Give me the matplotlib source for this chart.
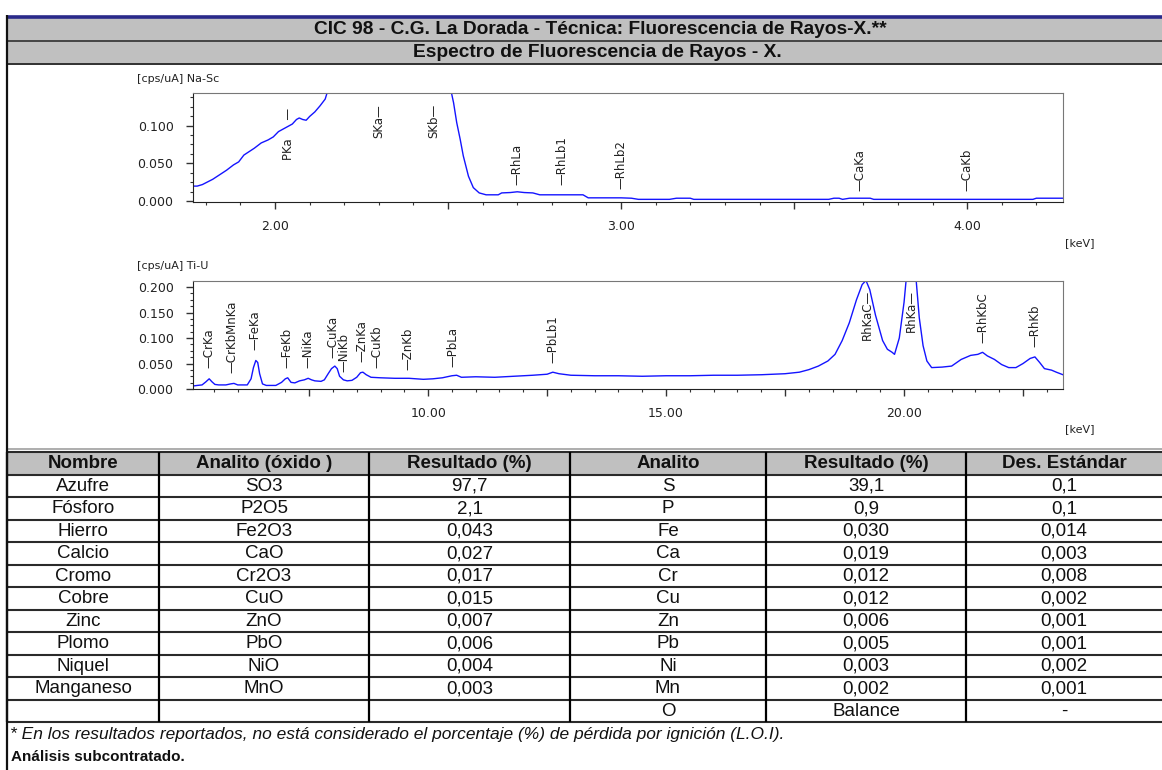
import matplotlib.pyplot as plt
from matplotlib.patches import Rectangle
from matplotlib.ticker import MultipleLocator, FuncFormatter

W, H = 1162, 770

# Espectro Na-Sc (keV, cps/uA)
na_sc_kev = [1.764, 1.775, 1.79, 1.82, 1.84, 1.86, 1.88, 1.895, 1.91, 1.94, 1.96,
             1.98, 1.995, 2.01, 2.03, 2.05, 2.062, 2.07, 2.08, 2.09, 2.10, 2.115,
             2.13, 2.145, 2.155, 2.18, 2.31, 2.46, 2.50, 2.509, 2.516, 2.525, 2.535,
             2.544, 2.559, 2.573, 2.59, 2.61, 2.645, 2.655, 2.68, 2.70, 2.72, 2.745,
             2.765, 2.89, 2.905, 3.00, 3.03, 3.05, 3.14, 3.16, 3.20, 3.21, 3.60,
             3.615, 3.63, 3.64, 3.66, 3.72, 3.73, 4.19, 4.20, 4.277]
na_sc_cps = [0.020, 0.020, 0.022, 0.029, 0.035, 0.041, 0.048, 0.052, 0.061, 0.070, 0.077,
             0.081, 0.085, 0.092, 0.097, 0.102, 0.108, 0.110, 0.108, 0.107, 0.112, 0.118,
             0.126, 0.135, 0.150, 0.250, 0.400, 0.400, 0.250, 0.145, 0.130, 0.104, 0.082,
             0.060, 0.033, 0.018, 0.011, 0.0085, 0.0085, 0.011, 0.0115, 0.0125, 0.0115, 0.011,
             0.0085, 0.0085, 0.0045, 0.0045, 0.004, 0.0025, 0.0025, 0.004, 0.004, 0.0025, 0.0025,
             0.004, 0.004, 0.0025, 0.004, 0.004, 0.0025, 0.0025, 0.004, 0.004]
na_sc_lineas = ["PKa     \u2014", "SKa\u2014", "SKb\u2014", "\u2014RhLa", "\u2014RhLb1",
                "\u2014RhLb2", "\u2014CaKa", "\u2014CaKb"]
na_sc_kev_lineas = [2.04, 2.30, 2.46, 2.70, 2.83, 3.00, 3.69, 4.00]
na_sc_alto_etiqueta = [0.055, 0.084, 0.084, 0.022, 0.021, 0.016, 0.013, 0.013]

# Espectro Ti-U (keV, cps/uA)
ti_u_kev = [5.07, 5.15, 5.25, 5.33, 5.40, 5.46, 5.52, 5.60, 5.75, 5.85, 5.92, 6.00,
            6.20, 6.28, 6.33, 6.38, 6.42, 6.46, 6.52, 6.60, 6.80, 6.92, 7.00, 7.05,
            7.12, 7.20, 7.30, 7.40, 7.48, 7.55, 7.62, 7.75, 7.82, 7.90, 7.97, 8.04,
            8.09, 8.14, 8.22, 8.30, 8.40, 8.50, 8.58, 8.63, 8.70, 8.80, 9.00, 9.30,
            9.60, 9.90, 10.10, 10.30, 10.50, 10.60, 10.70, 11.00, 11.40, 11.80, 12.20,
            12.50, 12.62, 12.75, 13.00, 13.50, 14.00, 14.50, 15.00, 15.50, 16.00, 16.50,
            17.00, 17.50, 17.80, 18.00, 18.20, 18.40, 18.55, 18.70, 18.85, 19.00, 19.12,
            19.20, 19.28, 19.40, 19.55, 19.65, 19.75, 19.80, 19.90, 20.00, 20.06, 20.15,
            20.24, 20.32, 20.40, 20.48, 20.58, 20.80, 21.00, 21.20, 21.40, 21.55, 21.65,
            21.75, 21.90, 22.05, 22.20, 22.35, 22.50, 22.65, 22.75, 22.85, 22.95, 23.10,
            23.20, 23.34]
ti_u_cps = [0.006, 0.007, 0.008, 0.014, 0.020, 0.014, 0.009, 0.008, 0.008, 0.010, 0.011, 0.008,
            0.008, 0.020, 0.042, 0.056, 0.052, 0.030, 0.010, 0.007, 0.007, 0.013, 0.020, 0.022,
            0.013, 0.012, 0.016, 0.018, 0.021, 0.018, 0.016, 0.015, 0.018, 0.030, 0.040, 0.045,
            0.040, 0.025, 0.018, 0.016, 0.017, 0.023, 0.032, 0.033, 0.028, 0.023, 0.022, 0.021,
            0.021, 0.019, 0.020, 0.022, 0.026, 0.027, 0.023, 0.024, 0.023, 0.025, 0.027,
            0.029, 0.033, 0.030, 0.027, 0.026, 0.026, 0.025, 0.026, 0.026, 0.027, 0.027,
            0.028, 0.030, 0.033, 0.038, 0.045, 0.055, 0.068, 0.095, 0.130, 0.175, 0.205,
            0.213, 0.195, 0.145, 0.095, 0.078, 0.072, 0.068, 0.100, 0.170, 0.230, 0.300,
            0.230, 0.140, 0.085, 0.055, 0.042, 0.043, 0.045, 0.058, 0.066, 0.068, 0.072,
            0.065, 0.058, 0.048, 0.042, 0.042, 0.050, 0.060, 0.063, 0.052, 0.040, 0.037,
            0.033, 0.028]
ti_u_lineas = ["\u2014CrKa", "\u2014CrKbMnKa", "\u2014FeKa", "\u2014FeKb", "\u2014NiKa",
               "\u2014CuKa", "\u2014NiKb", "\u2014ZnKa", "\u2014CuKb", "\u2014ZnKb",
               "\u2014PbLa", "\u2014PbLb1", "RhKaC\u2014", "RhKa\u2014", "\u2014RhKbC",
               "\u2014RhKb"]
ti_u_kev_lineas = [5.40, 5.88, 6.37, 7.04, 7.48, 8.00, 8.23, 8.60, 8.93, 9.57,
                   10.53, 12.63, 19.22, 20.15, 21.65, 22.75]
ti_u_alto_etiqueta = [0.041, 0.031, 0.076, 0.041, 0.041, 0.061, 0.033, 0.053, 0.041,
                      0.037, 0.043, 0.051, 0.096, 0.112, 0.090, 0.082]

# Resultados del análisis
encabezados = ["Nombre", "Analito (óxido )", "Resultado (%)", "Analito",
               "Resultado (%)", "Des. Estándar"]
nombres = ["Azufre", "Fósforo", "Hierro", "Calcio", "Cromo", "Cobre", "Zinc",
           "Plomo", "Niquel", "Manganeso", ""]
oxidos = ["SO3", "P2O5", "Fe2O3", "CaO", "Cr2O3", "CuO", "ZnO", "PbO", "NiO", "MnO", ""]
resultado_oxido = ["97,7", "2,1", "0,043", "0,027", "0,017", "0,015", "0,007",
                   "0,006", "0,004", "0,003", ""]
analitos = ["S", "P", "Fe", "Ca", "Cr", "Cu", "Zn", "Pb", "Ni", "Mn", "O"]
resultado_analito = ["39,1", "0,9", "0,030", "0,019", "0,012", "0,012", "0,006",
                     "0,005", "0,003", "0,002", "Balance"]
desviacion = ["0,1", "0,1", "0,014", "0,003", "0,008", "0,002", "0,001", "0,001",
              "0,002", "0,001", "-"]

SANS = ["Liberation Sans", "DejaVu Sans"]
AZUL = "#1414ff"

fig = plt.figure(figsize=(W / 100, H / 100), dpi=100)

# capa de fondo en pixeles para marcos, franjas y tabla
hoja = fig.add_axes([0, 0, 1, 1], zorder=0)
hoja.set_xlim(0, W)
hoja.set_ylim(H, 0)
hoja.axis("off")


def ejes(x0, y0, x1, y1):
    return fig.add_axes([x0 / W, 1 - y1 / H, (x1 - x0) / W, (y1 - y0) / H], zorder=2)


def formato_x(paso):
    def f(v, pos):
        return f"{v:.2f}" if abs(v / paso - round(v / paso)) < 1e-6 else ""
    return FuncFormatter(f)


def espectro(ax, kev, cps, lineas, kev_lineas, alto, xlim, ylim, medio, menor, rotulo):
    ax.plot(kev, cps, color=AZUL, lw=1.0, clip_on=True)
    for txt, x, y in zip(lineas, kev_lineas, alto):
        ax.text(x, y, txt, rotation=90, ha="center", va="bottom", fontsize=8.5,
                color="#222222", family="DejaVu Sans")
    ax.set_xlim(*xlim)
    ax.set_ylim(*ylim)
    ax.xaxis.set_major_locator(MultipleLocator(medio))
    ax.xaxis.set_major_formatter(formato_x(rotulo))
    ax.xaxis.set_minor_locator(MultipleLocator(menor))
    ax.yaxis.set_major_locator(MultipleLocator(0.05))
    ax.yaxis.set_major_formatter(FuncFormatter(lambda v, p: f"{v:.3f}"))
    ax.yaxis.set_minor_locator(MultipleLocator(0.0125))
    ax.tick_params(which="major", direction="out", length=5, width=1,
                   labelsize=9, labelcolor="#222222", color="#333333")
    ax.tick_params(which="minor", direction="out", length=2.5, width=0.8, color="#333333")
    ax.tick_params(axis="x", pad=8)
    ax.tick_params(axis="y", pad=9)
    for lado in ["left", "bottom"]:
        ax.spines[lado].set_color("#222222")
    for lado in ["top", "right"]:
        ax.spines[lado].set_color("#777777")


ax1 = ejes(193, 93, 1063, 202)
espectro(ax1, na_sc_kev, na_sc_cps, na_sc_lineas, na_sc_kev_lineas, na_sc_alto_etiqueta,
         (1.763, 4.277), (-0.001, 0.143), 0.5, 0.1, 1.0)

ax2 = ejes(193, 281, 1063, 389)
espectro(ax2, ti_u_kev, ti_u_cps, ti_u_lineas, ti_u_kev_lineas, ti_u_alto_etiqueta,
         (5.06, 23.34), (0.0, 0.212), 2.5, 0.5, 5.0)

for y, txt in [(79, "[cps/uA] Na-Sc"), (266, "[cps/uA] Ti-U")]:
    hoja.text(137, y, txt, fontsize=8, va="center", ha="left", color="#222222")
for y in [243, 429]:
    hoja.text(1080, y, "[keV]", fontsize=8, va="center", ha="center", color="#222222")

# encabezado del informe
hoja.add_patch(Rectangle((7, 18), W - 7, 22.5, facecolor="#c0c0c0", edgecolor="none"))
hoja.add_patch(Rectangle((7, 41), W - 7, 22, facecolor="#c0c0c0", edgecolor="none"))
hoja.plot([7, W], [16.5, 16.5], color="#2a2a8a", lw=2.6, solid_capstyle="butt")
hoja.plot([7, W], [40.5, 40.5], color="#303030", lw=1.2)
hoja.plot([7, W], [63.5, 63.5], color="#303030", lw=1.4)
hoja.text(600, 29.5, "CIC 98 - C.G. La Dorada - Técnica: Fluorescencia de Rayos-X.**",
          ha="center", va="center", fontsize=13.8, fontweight="bold", family=SANS,
          color="#111111")
hoja.text(597, 52.5, "Espectro de Fluorescencia de Rayos - X.",
          ha="center", va="center", fontsize=13.8, fontweight="bold", family=SANS,
          color="#111111")

# tabla de resultados
cols = [7, 159, 369, 570, 766, 966, W]
fila = 22.5
y0 = 452
columnas = [nombres, oxidos, resultado_oxido, analitos, resultado_analito, desviacion]
n = len(nombres)
y_fin = y0 + fila * (n + 1)
hoja.plot([7, W], [448.5, 448.5], color="#a0a0a0", lw=1.2)
hoja.add_patch(Rectangle((7, y0), W - 7, fila, facecolor="#c0c0c0", edgecolor="none"))
for i in range(n + 2):
    yy = y0 + i * fila
    hoja.plot([7, W], [yy, yy], color="#2a2a2a", lw=1.5, solid_capstyle="butt")
for x in cols[:-1]:
    hoja.plot([x, x], [y0, y_fin], color="#000000", lw=1.6, solid_capstyle="butt")
for j, (txt, valores) in enumerate(zip(encabezados, columnas)):
    xc = (cols[j] + cols[j + 1]) / 2
    hoja.text(xc, y0 + fila / 2 + 0.5, txt, ha="center", va="center", fontsize=13.5,
              fontweight="bold", family=SANS, color="#111111")
    for i, v in enumerate(valores):
        hoja.text(xc, y0 + fila * (i + 1.5) + 0.5, v, ha="center", va="center",
                  fontsize=13.5, family=SANS, color="#111111")

hoja.plot([7, 7], [15, H], color="#111111", lw=1.6, solid_capstyle="butt")
hoja.text(10, 735, "* En los resultados reportados, no está considerado el porcentaje (%) "
          "de pérdida por ignición (L.O.I).", ha="left", va="center", fontsize=12.5,
          style="italic", family=SANS, color="#111111")
hoja.text(11, 757, "Análisis subcontratado.", ha="left", va="center", fontsize=11,
          fontweight="bold", family=SANS, color="#111111")

fig.savefig("out.png", dpi=100)
